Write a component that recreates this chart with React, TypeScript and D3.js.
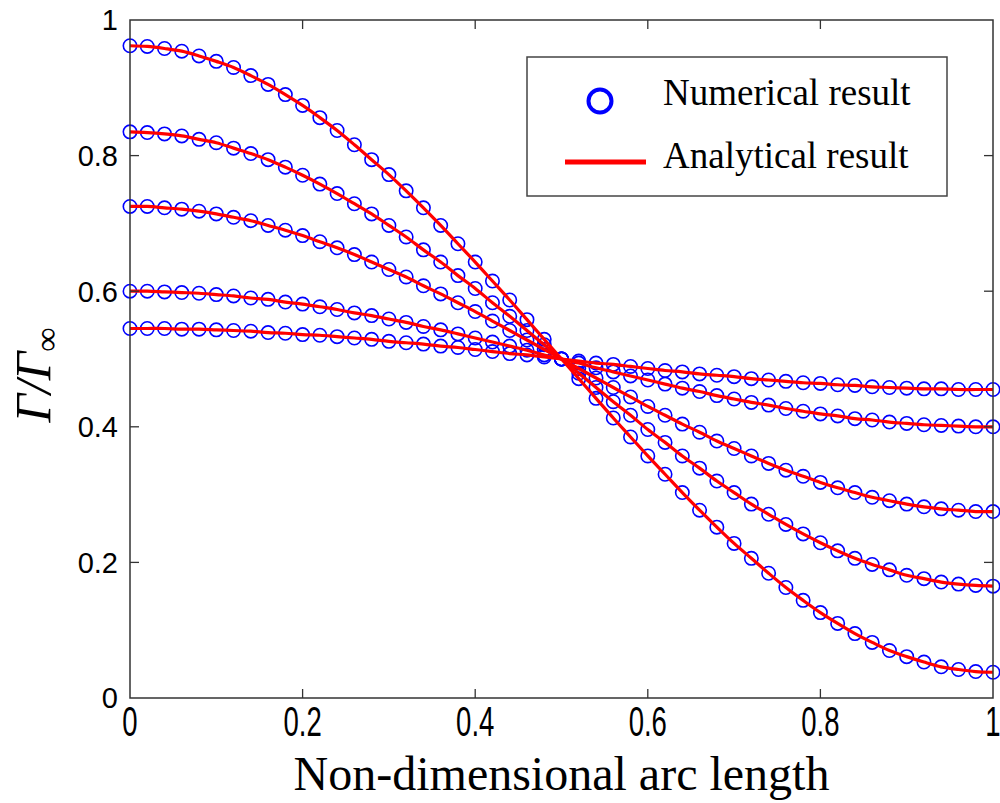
import React, { useEffect, useRef } from 'react';
import * as d3 from 'd3';

// arc length stations (same for every curve)
const arcLength = [
    0, 0.02, 0.04, 0.06, 0.08, 0.1, 0.12, 0.14, 0.16, 0.18,
    0.2, 0.22, 0.24, 0.26, 0.28, 0.3, 0.32, 0.34, 0.36, 0.38,
    0.4, 0.42, 0.44, 0.46, 0.48, 0.5, 0.52, 0.54, 0.56, 0.58,
    0.6, 0.62, 0.64, 0.66, 0.68, 0.7, 0.72, 0.74, 0.76, 0.78,
    0.8, 0.82, 0.84, 0.86, 0.88, 0.9, 0.92, 0.94, 0.96, 0.98, 1
];

// Γ/Γ∞, top curve first
const curve1 = [
    0.962, 0.961, 0.958, 0.954, 0.947, 0.939, 0.930, 0.918, 0.905, 0.890,
    0.874, 0.856, 0.837, 0.816, 0.794, 0.772, 0.748, 0.723, 0.697, 0.670,
    0.643, 0.615, 0.587, 0.558, 0.529, 0.500, 0.471, 0.442, 0.413, 0.385,
    0.357, 0.330, 0.303, 0.277, 0.252, 0.228, 0.206, 0.184, 0.163, 0.144,
    0.126, 0.110, 0.095, 0.082, 0.070, 0.061, 0.053, 0.046, 0.042, 0.039, 0.038
];
const curve2 = [
    0.835, 0.834, 0.832, 0.829, 0.824, 0.819, 0.811, 0.803, 0.794, 0.783,
    0.771, 0.758, 0.744, 0.729, 0.714, 0.697, 0.680, 0.661, 0.643, 0.623,
    0.604, 0.583, 0.563, 0.542, 0.521, 0.500, 0.479, 0.458, 0.437, 0.417,
    0.396, 0.377, 0.357, 0.339, 0.320, 0.303, 0.286, 0.271, 0.256, 0.242,
    0.229, 0.217, 0.206, 0.197, 0.189, 0.181, 0.176, 0.171, 0.168, 0.166, 0.165
];
const curve3 = [
    0.725, 0.725, 0.723, 0.721, 0.718, 0.714, 0.709, 0.704, 0.697, 0.690,
    0.682, 0.673, 0.664, 0.654, 0.643, 0.632, 0.621, 0.608, 0.596, 0.583,
    0.570, 0.556, 0.542, 0.528, 0.514, 0.500, 0.486, 0.472, 0.458, 0.444,
    0.430, 0.417, 0.404, 0.392, 0.379, 0.368, 0.357, 0.346, 0.336, 0.327,
    0.318, 0.310, 0.303, 0.296, 0.291, 0.286, 0.282, 0.279, 0.277, 0.275, 0.275
];
const curve4 = [
    0.600, 0.600, 0.599, 0.598, 0.597, 0.595, 0.593, 0.590, 0.588, 0.584,
    0.581, 0.577, 0.573, 0.568, 0.564, 0.559, 0.554, 0.548, 0.543, 0.537,
    0.531, 0.525, 0.519, 0.513, 0.506, 0.500, 0.494, 0.487, 0.481, 0.475,
    0.469, 0.463, 0.457, 0.452, 0.446, 0.441, 0.436, 0.432, 0.427, 0.423,
    0.419, 0.416, 0.412, 0.410, 0.407, 0.405, 0.403, 0.402, 0.401, 0.400, 0.400
];
const curve5 = [
    0.545, 0.545, 0.545, 0.544, 0.544, 0.543, 0.542, 0.541, 0.539, 0.538,
    0.536, 0.535, 0.533, 0.531, 0.529, 0.526, 0.524, 0.522, 0.519, 0.517,
    0.514, 0.511, 0.508, 0.506, 0.503, 0.500, 0.497, 0.494, 0.492, 0.489,
    0.486, 0.483, 0.481, 0.478, 0.476, 0.474, 0.471, 0.469, 0.467, 0.465,
    0.464, 0.462, 0.461, 0.459, 0.458, 0.457, 0.456, 0.456, 0.455, 0.455, 0.455
];

const xTicks = [0, 0.2, 0.4, 0.6, 0.8, 1];
const yTicks = [0, 0.2, 0.4, 0.6, 0.8, 1];
const legendLabels = ['Numerical result', 'Analytical result'];

const W = 1000;
const H = 803;

const App = () => {
    const svgRef = useRef<SVGSVGElement>(null);

    useEffect(() => {
        const svg = d3.select(svgRef.current);
        svg.selectAll('*').remove();

        const margin = { top: 20, right: 7, bottom: 105, left: 130 };
        const innerW = W - margin.left - margin.right;
        const innerH = H - margin.top - margin.bottom;

        const x = d3.scaleLinear().domain([0, 1]).range([0, innerW]);
        const y = d3.scaleLinear().domain([0, 1]).range([innerH, 0]);

        const g = svg.append('g')
            .attr('transform', `translate(${margin.left},${margin.top})`);

        const series = [curve1, curve2, curve3, curve4, curve5];

        // numerical markers
        series.forEach(vals => {
            g.append('g')
                .selectAll('circle')
                .data(vals)
                .enter()
                .append('circle')
                .attr('cx', (_, i) => x(arcLength[i]))
                .attr('cy', d => y(d))
                .attr('r', 6.7)
                .attr('fill', 'none')
                .attr('stroke', '#0000ff')
                .attr('stroke-width', 1.6);
        });

        // analytical lines on top
        const line = d3.line<number>()
            .x((_, i) => x(arcLength[i]))
            .y(d => y(d))
            .curve(d3.curveCatmullRom);

        series.forEach(vals => {
            g.append('path')
                .datum(vals)
                .attr('d', line)
                .attr('fill', 'none')
                .attr('stroke', '#ff0000')
                .attr('stroke-width', 3.2);
        });

        // frame
        g.append('rect')
            .attr('width', innerW)
            .attr('height', innerH)
            .attr('fill', 'none')
            .attr('stroke', '#333')
            .attr('stroke-width', 1.5);

        const tickLen = 9;
        const tickColor = '#333';

        // x ticks (inward, bottom & top)
        xTicks.forEach(t => {
            if (t === 0 || t === 1) return;
            g.append('line')
                .attr('x1', x(t)).attr('x2', x(t))
                .attr('y1', innerH).attr('y2', innerH - tickLen)
                .attr('stroke', tickColor).attr('stroke-width', 1.3);
            g.append('line')
                .attr('x1', x(t)).attr('x2', x(t))
                .attr('y1', 0).attr('y2', tickLen)
                .attr('stroke', tickColor).attr('stroke-width', 1.3);
        });

        yTicks.forEach(t => {
            if (t === 0 || t === 1) return;
            g.append('line')
                .attr('x1', 0).attr('x2', tickLen)
                .attr('y1', y(t)).attr('y2', y(t))
                .attr('stroke', tickColor).attr('stroke-width', 1.3);
            g.append('line')
                .attr('x1', innerW).attr('x2', innerW - tickLen)
                .attr('y1', y(t)).attr('y2', y(t))
                .attr('stroke', tickColor).attr('stroke-width', 1.3);
        });

        // tick labels
        xTicks.forEach(t => {
            g.append('text')
                .attr('transform', `translate(${x(t)},${innerH + 38}) scale(0.64,1)`)
                .attr('text-anchor', 'middle')
                .style('font-family', 'Liberation Sans, Arial, sans-serif')
                .style('font-size', '43px')
                .text(d3.format('~g')(t));
        });

        yTicks.forEach(t => {
            g.append('text')
                .attr('x', -12)
                .attr('y', y(t))
                .attr('dy', '0.36em')
                .attr('text-anchor', 'end')
                .style('font-family', 'Liberation Sans, Arial, sans-serif')
                .style('font-size', '29px')
                .text(d3.format('~g')(t));
        });

        // axis titles
        svg.append('text')
            .attr('x', margin.left + innerW / 2)
            .attr('y', 790)
            .attr('text-anchor', 'middle')
            .style('font-family', 'Liberation Serif, Times New Roman, serif')
            .style('font-size', '48px')
            .text('Non-dimensional arc length');

        const yl = svg.append('text')
            .attr('transform', 'translate(50,375) rotate(-90)')
            .attr('text-anchor', 'middle')
            .style('font-family', 'Liberation Serif, Times New Roman, serif')
            .style('font-style', 'italic')
            .style('font-size', '50px');
        yl.append('tspan').text('Γ/Γ');
        yl.append('tspan')
            .attr('dy', 8)
            .style('font-size', '34px')
            .style('font-style', 'normal')
            .text('∞');

        // legend
        const lg = svg.append('g').attr('transform', 'translate(527,57)');
        lg.append('rect')
            .attr('width', 420)
            .attr('height', 139)
            .attr('fill', '#fff')
            .attr('stroke', '#444')
            .attr('stroke-width', 1.5);
        lg.append('circle')
            .attr('cx', 73).attr('cy', 44)
            .attr('r', 11.5)
            .attr('fill', 'none')
            .attr('stroke', '#0000ff')
            .attr('stroke-width', 4);
        lg.append('line')
            .attr('x1', 38).attr('x2', 119)
            .attr('y1', 105).attr('y2', 105)
            .attr('stroke', '#ff0000')
            .attr('stroke-width', 5);
        legendLabels.forEach((txt, i) => {
            lg.append('text')
                .attr('x', 136)
                .attr('y', 48 + i * 63)
                .style('font-family', 'Liberation Serif, Times New Roman, serif')
                .style('font-size', '37px')
                .text(txt);
        });
    }, []);

    return (
        <svg
            ref={svgRef}
            width={W}
            height={H}
            style={{ position: 'absolute', left: 0, top: 0, background: '#fff' }}
        />
    );
};

export default App;
